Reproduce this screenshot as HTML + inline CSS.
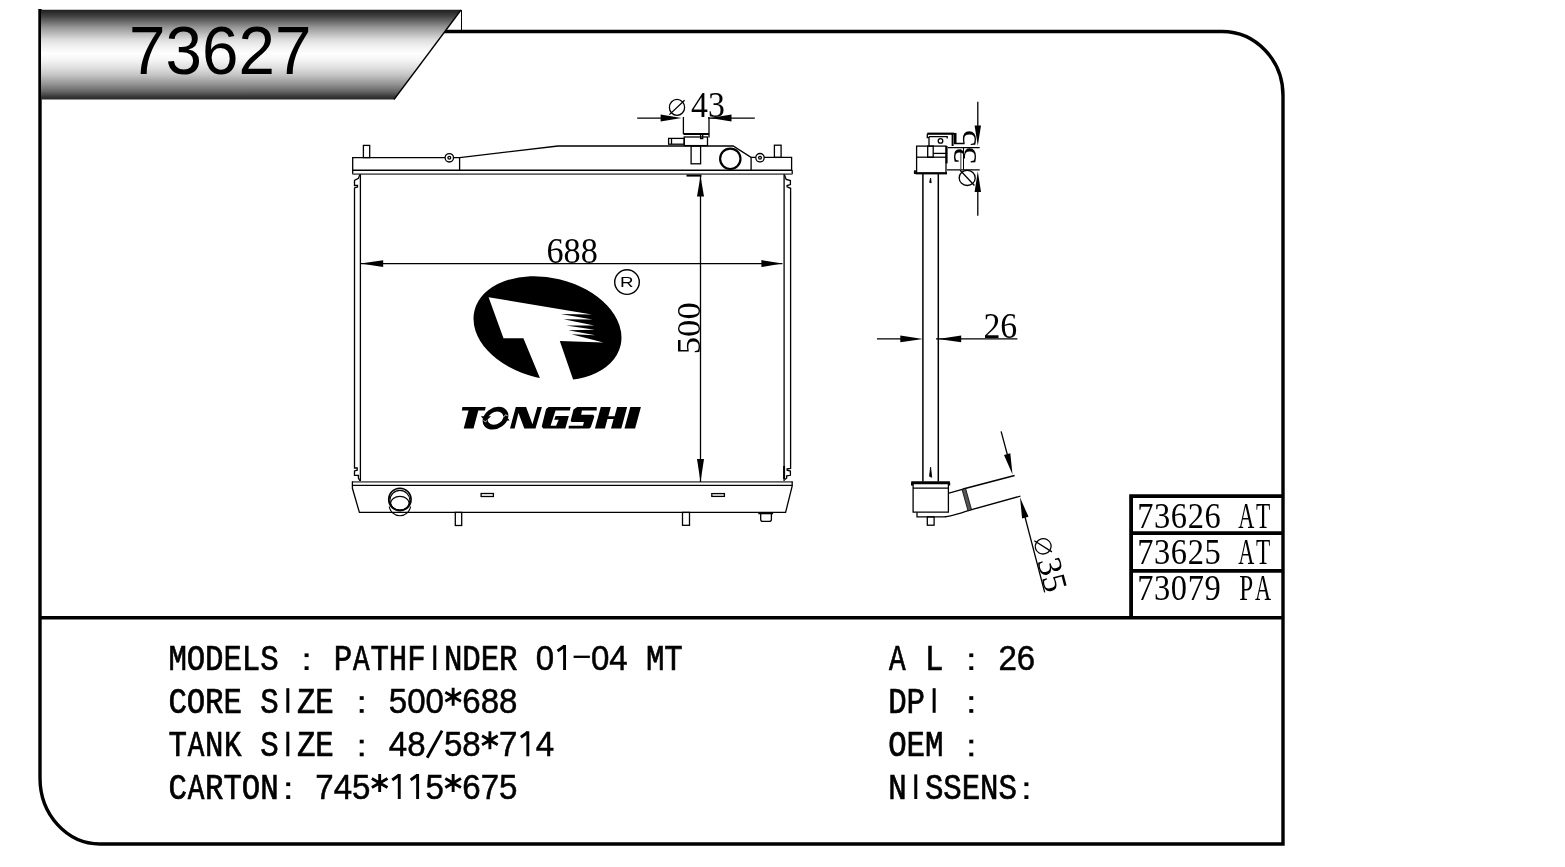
<!DOCTYPE html>
<html><head><meta charset="utf-8">
<style>
html,body{margin:0;padding:0;background:#fff;width:1565px;height:867px;overflow:hidden}
svg{position:absolute;left:0;top:0;filter:grayscale(1)}
.lt{font-family:"Liberation Mono",monospace;font-size:30.75px;text-anchor:middle;stroke:#000;stroke-width:0.6}
.dg{font-family:"Liberation Sans",sans-serif;font-size:35px;text-anchor:middle;stroke:#000;stroke-width:0.5}
.st{fill:none;stroke:#000;stroke-width:2.9}
.ser{font-family:"Liberation Serif",serif;fill:#000}
</style></head>
<body>
<svg width="1565" height="867" viewBox="0 0 1565 867">
<defs>
<linearGradient id="bg" x1="0" y1="0" x2="0" y2="1">
<stop offset="0" stop-color="#1e1e1e"/>
<stop offset="0.075" stop-color="#444"/>
<stop offset="0.14" stop-color="#707070"/>
<stop offset="0.2" stop-color="#999"/>
<stop offset="0.27" stop-color="#bdbdbd"/>
<stop offset="0.33" stop-color="#dcdcdc"/>
<stop offset="0.396" stop-color="#eee"/>
<stop offset="0.486" stop-color="#fff"/>
<stop offset="0.564" stop-color="#f4f4f4"/>
<stop offset="0.653" stop-color="#ddd"/>
<stop offset="0.717" stop-color="#c8c8c8"/>
<stop offset="0.782" stop-color="#aaa"/>
<stop offset="0.845" stop-color="#8a8a8a"/>
<stop offset="0.91" stop-color="#666"/>
<stop offset="0.973" stop-color="#333"/>
<stop offset="1" stop-color="#2a2a2a"/>
</linearGradient>
</defs>
<!-- FRAME -->
<g fill="none" stroke="#000" stroke-width="3.4">
<path d="M444 31.5 H1222 A61 64 0 0 1 1283 95.5 V844 H100 A60 66 0 0 1 40 778 V9"/>
<line x1="40" y1="617.7" x2="1283" y2="617.7"/>
</g>
<!-- BANNER -->
<path d="M41 9.8 H461 L394 99.6 H41 Z" fill="url(#bg)"/>
<path d="M461 10 L394 99.5" stroke="#000" stroke-width="1.3" fill="none"/>
<line x1="461.5" y1="10" x2="461.5" y2="31" stroke="#000" stroke-width="1"/>
<text transform="translate(129.1 74.2) scale(0.946 1)" x="0" y="0" font-family="Liberation Sans" font-size="69.3" fill="#000">73627</text>

<!-- TABLE -->
<g fill="none" stroke="#000" stroke-width="3.8">
<path d="M1131.1 617.5 V496.1 H1283"/>
<line x1="1131.1" y1="533.2" x2="1283" y2="533.2"/>
<line x1="1131.1" y1="570.8" x2="1283" y2="570.8"/>
</g>
<g id="tbl" fill="#000" font-family="Liberation Serif" font-size="35.3" text-anchor="middle">
<text transform="translate(1145.30 527.5) scale(0.92 1)">7</text>
<text transform="translate(1162.13 527.5) scale(0.92 1)">3</text>
<text transform="translate(1178.96 527.5) scale(0.92 1)">6</text>
<text transform="translate(1195.79 527.5) scale(0.92 1)">2</text>
<text transform="translate(1212.62 527.5) scale(0.92 1)">6</text>
<text transform="translate(1246.28 527.5) scale(0.63 1)">A</text>
<text transform="translate(1263.11 527.5) scale(0.66 1)">T</text>
<text transform="translate(1145.30 564.2) scale(0.92 1)">7</text>
<text transform="translate(1162.13 564.2) scale(0.92 1)">3</text>
<text transform="translate(1178.96 564.2) scale(0.92 1)">6</text>
<text transform="translate(1195.79 564.2) scale(0.92 1)">2</text>
<text transform="translate(1212.62 564.2) scale(0.92 1)">5</text>
<text transform="translate(1246.28 564.2) scale(0.63 1)">A</text>
<text transform="translate(1263.11 564.2) scale(0.66 1)">T</text>
<text transform="translate(1145.30 600.1) scale(0.92 1)">7</text>
<text transform="translate(1162.13 600.1) scale(0.92 1)">3</text>
<text transform="translate(1178.96 600.1) scale(0.92 1)">0</text>
<text transform="translate(1195.79 600.1) scale(0.92 1)">7</text>
<text transform="translate(1212.62 600.1) scale(0.92 1)">9</text>
<text transform="translate(1246.28 600.1) scale(0.71 1)">P</text>
<text transform="translate(1263.11 600.1) scale(0.63 1)">A</text>
</g>

<!-- INFO TEXT -->
<g id="info" fill="#000">
<text class="lt" transform="translate(177.60 670) scale(1 1.21)">M</text>
<text class="lt" transform="translate(195.97 670) scale(1 1.21)">O</text>
<text class="lt" transform="translate(214.34 670) scale(1 1.21)">D</text>
<text class="lt" transform="translate(232.71 670) scale(1 1.21)">E</text>
<text class="lt" transform="translate(251.08 670) scale(1 1.21)">L</text>
<text class="lt" transform="translate(269.45 670) scale(1 1.21)">S</text>
<rect x="304.59" y="653.40" width="4" height="3.7"/><rect x="304.59" y="666.30" width="4" height="3.7"/>
<text class="lt" transform="translate(342.93 670) scale(1 1.21)">P</text>
<text class="lt" transform="translate(361.30 670) scale(0.9 1.21)">A</text>
<text class="lt" transform="translate(379.67 670) scale(1 1.21)">T</text>
<text class="lt" transform="translate(398.04 670) scale(1 1.21)">H</text>
<text class="lt" transform="translate(416.41 670) scale(1 1.21)">F</text>
<rect x="433.28" y="645.40" width="3" height="24.6"/>
<text class="lt" transform="translate(453.15 670) scale(1 1.21)">N</text>
<text class="lt" transform="translate(471.52 670) scale(1 1.21)">D</text>
<text class="lt" transform="translate(489.89 670) scale(1 1.21)">E</text>
<text class="lt" transform="translate(508.26 670) scale(1 1.21)">R</text>
<text class="dg" transform="translate(545.00 670) scale(0.945 1)">0</text>
<rect x="563.12" y="645.00" width="2.9" height="25"/><path class="st" stroke-width="2.7" d="M564.57 646.00 L557.57 651.00"/>
<rect x="573.59" y="655.65" width="16.3" height="2.3"/>
<text class="dg" transform="translate(600.11 670) scale(0.945 1)">0</text>
<text class="dg" transform="translate(618.48 670) scale(0.945 1)">4</text>
<text class="lt" transform="translate(655.22 670) scale(1 1.21)">M</text>
<text class="lt" transform="translate(673.59 670) scale(1 1.21)">T</text>
<text class="lt" transform="translate(177.60 712.8) scale(1 1.21)">C</text>
<text class="lt" transform="translate(195.97 712.8) scale(1 1.21)">O</text>
<text class="lt" transform="translate(214.34 712.8) scale(1 1.21)">R</text>
<text class="lt" transform="translate(232.71 712.8) scale(1 1.21)">E</text>
<text class="lt" transform="translate(269.45 712.8) scale(1 1.21)">S</text>
<rect x="286.32" y="688.20" width="3" height="24.6"/>
<text class="lt" transform="translate(306.19 712.8) scale(1 1.21)">Z</text>
<text class="lt" transform="translate(324.56 712.8) scale(1 1.21)">E</text>
<rect x="359.70" y="696.20" width="4" height="3.7"/><rect x="359.70" y="709.10" width="4" height="3.7"/>
<text class="dg" transform="translate(398.04 712.8) scale(0.945 1)">5</text>
<text class="dg" transform="translate(416.41 712.8) scale(0.945 1)">0</text>
<text class="dg" transform="translate(434.78 712.8) scale(0.945 1)">0</text>
<path class="st" d="M453.15 687.80 V705.80 M445.35 692.30 L460.95 701.30 M445.35 701.30 L460.95 692.30"/>
<text class="dg" transform="translate(471.52 712.8) scale(0.945 1)">6</text>
<text class="dg" transform="translate(489.89 712.8) scale(0.945 1)">8</text>
<text class="dg" transform="translate(508.26 712.8) scale(0.945 1)">8</text>
<text class="lt" transform="translate(177.60 756.3) scale(1 1.21)">T</text>
<text class="lt" transform="translate(195.97 756.3) scale(0.9 1.21)">A</text>
<text class="lt" transform="translate(214.34 756.3) scale(1 1.21)">N</text>
<text class="lt" transform="translate(232.71 756.3) scale(0.95 1.21)">K</text>
<text class="lt" transform="translate(269.45 756.3) scale(1 1.21)">S</text>
<rect x="286.32" y="731.70" width="3" height="24.6"/>
<text class="lt" transform="translate(306.19 756.3) scale(1 1.21)">Z</text>
<text class="lt" transform="translate(324.56 756.3) scale(1 1.21)">E</text>
<rect x="359.70" y="739.70" width="4" height="3.7"/><rect x="359.70" y="752.60" width="4" height="3.7"/>
<text class="dg" transform="translate(398.04 756.3) scale(0.945 1)">4</text>
<text class="dg" transform="translate(416.41 756.3) scale(0.945 1)">8</text>
<path class="st" d="M442.08 730.60 L427.18 757.70"/>
<text class="dg" transform="translate(453.15 756.3) scale(0.945 1)">5</text>
<text class="dg" transform="translate(471.52 756.3) scale(0.945 1)">8</text>
<path class="st" d="M489.89 731.30 V749.30 M482.09 735.80 L497.69 744.80 M482.09 744.80 L497.69 735.80"/>
<text class="dg" transform="translate(508.26 756.3) scale(0.945 1)">7</text>
<rect x="526.38" y="731.30" width="2.9" height="25"/><path class="st" stroke-width="2.7" d="M527.83 732.30 L520.83 737.30"/>
<text class="dg" transform="translate(545.00 756.3) scale(0.945 1)">4</text>
<text class="lt" transform="translate(177.60 799) scale(1 1.21)">C</text>
<text class="lt" transform="translate(195.97 799) scale(0.9 1.21)">A</text>
<text class="lt" transform="translate(214.34 799) scale(1 1.21)">R</text>
<text class="lt" transform="translate(232.71 799) scale(1 1.21)">T</text>
<text class="lt" transform="translate(251.08 799) scale(1 1.21)">O</text>
<text class="lt" transform="translate(269.45 799) scale(1 1.21)">N</text>
<rect x="286.22" y="782.40" width="4" height="3.7"/><rect x="286.22" y="795.30" width="4" height="3.7"/>
<text class="dg" transform="translate(324.56 799) scale(0.945 1)">7</text>
<text class="dg" transform="translate(342.93 799) scale(0.945 1)">4</text>
<text class="dg" transform="translate(361.30 799) scale(0.945 1)">5</text>
<path class="st" d="M379.67 774.00 V792.00 M371.87 778.50 L387.47 787.50 M371.87 787.50 L387.47 778.50"/>
<rect x="397.79" y="774.00" width="2.9" height="25"/><path class="st" stroke-width="2.7" d="M399.24 775.00 L392.24 780.00"/>
<rect x="416.16" y="774.00" width="2.9" height="25"/><path class="st" stroke-width="2.7" d="M417.61 775.00 L410.61 780.00"/>
<text class="dg" transform="translate(434.78 799) scale(0.945 1)">5</text>
<path class="st" d="M453.15 774.00 V792.00 M445.35 778.50 L460.95 787.50 M445.35 787.50 L460.95 778.50"/>
<text class="dg" transform="translate(471.52 799) scale(0.945 1)">6</text>
<text class="dg" transform="translate(489.89 799) scale(0.945 1)">7</text>
<text class="dg" transform="translate(508.26 799) scale(0.945 1)">5</text>
<text class="lt" transform="translate(897.40 670) scale(0.9 1.21)">A</text>
<text class="lt" transform="translate(934.14 670) scale(1 1.21)">L</text>
<rect x="969.28" y="653.40" width="4" height="3.7"/><rect x="969.28" y="666.30" width="4" height="3.7"/>
<text class="dg" transform="translate(1007.62 670) scale(0.945 1)">2</text>
<text class="dg" transform="translate(1025.99 670) scale(0.945 1)">6</text>
<text class="lt" transform="translate(897.40 712.8) scale(1 1.21)">D</text>
<text class="lt" transform="translate(915.77 712.8) scale(1 1.21)">P</text>
<rect x="932.64" y="688.20" width="3" height="24.6"/>
<rect x="969.28" y="696.20" width="4" height="3.7"/><rect x="969.28" y="709.10" width="4" height="3.7"/>
<text class="lt" transform="translate(897.40 756.3) scale(1 1.21)">O</text>
<text class="lt" transform="translate(915.77 756.3) scale(1 1.21)">E</text>
<text class="lt" transform="translate(934.14 756.3) scale(1 1.21)">M</text>
<rect x="969.28" y="739.70" width="4" height="3.7"/><rect x="969.28" y="752.60" width="4" height="3.7"/>
<text class="lt" transform="translate(897.40 799) scale(1 1.21)">N</text>
<rect x="914.27" y="774.40" width="3" height="24.6"/>
<text class="lt" transform="translate(934.14 799) scale(1 1.21)">S</text>
<text class="lt" transform="translate(952.51 799) scale(1 1.21)">S</text>
<text class="lt" transform="translate(970.88 799) scale(1 1.21)">E</text>
<text class="lt" transform="translate(989.25 799) scale(1 1.21)">N</text>
<text class="lt" transform="translate(1007.62 799) scale(1 1.21)">S</text>
<rect x="1024.39" y="782.40" width="4" height="3.7"/><rect x="1024.39" y="795.30" width="4" height="3.7"/>
</g>

<!-- DRAWING -->
<g id="drawing" fill="none" stroke="#000" stroke-width="1.3">
<!-- top tank -->
<path d="M352.7 174.3 V157.6 H445"/>
<path d="M453.6 157.6 H459.6 L558 146 H733.2 L751.1 157.4 V170.4"/>
<path d="M459.6 157.6 V170.4"/>
<path d="M751.1 157.4 H755.8 M764.2 157.4 H791.6 V170.3 M792.2 170.3 V174.2"/>
<path d="M352.7 170.3 H792.2" stroke-width="1.5"/>
<path d="M352.7 174.2 H792.2" stroke="#666" stroke-width="1.7"/>
<rect x="363.4" y="145.4" width="6.3" height="12.2"/>
<rect x="774.4" y="145.2" width="6.7" height="12.2"/>
<circle cx="449.3" cy="157.8" r="4.2"/>
<circle cx="449.3" cy="157.8" r="1.4"/>
<circle cx="760" cy="157.7" r="4.2"/>
<circle cx="760" cy="157.7" r="1.4"/>
<circle cx="730.3" cy="158.8" r="10.2" stroke-width="2.2"/>
<rect x="691.1" y="146" width="9.5" height="17.8"/>
<!-- cap -->
<path d="M683.4 117 V134 M709 117 V137.5"/>
<path d="M683.4 134 H709" stroke-width="2"/>
<path d="M700.6 134.5 V138.6 H702.7 V134.5"/>
<rect x="684.2" y="137" width="23.3" height="8.6"/>
<rect x="668.6" y="138.4" width="15.6" height="5.8"/>
<path d="M671.5 138.4 V144.2"/>
<!-- core sides -->
<path d="M360.4 174.3 V481.5"/>
<path d="M359.8 174.6 L358.4 178.4 L354.5 180.5 V185.5 H357.5 V187 L354.5 188 V468 H357.2 V470.2 L354.5 470.9 V475.3 H358.4 V478.1 L360 480.8"/>
<path d="M784.1 174.3 V481.5"/>
<path d="M784.4 174.6 L786.2 179.5 L790.4 180.5 V184.6 L787.1 185.5 V186.9 L790.6 188.3 V468.4 L787.1 468.8 V470.2 L790.4 471.1 V475.3 L786.7 475.8 V478 L784.8 479.5"/>
<path d="M784.1 466 V479" stroke-width="2"/>
<!-- bottom tank -->
<path d="M352.4 481.8 H792.2" stroke="#666" stroke-width="1.7"/>
<path d="M352.4 485.3 H792.2" stroke-width="1.3"/>
<path d="M352.4 481.2 V488.3 L359.4 512.4 H785.6 L792.2 486 V481.2"/>
<circle cx="399.9" cy="499.4" r="11.2" stroke-width="1.6"/>
<circle cx="399.9" cy="500.4" r="10" stroke-width="1.2"/>
<ellipse cx="399.9" cy="503.2" rx="9.3" ry="6.8" stroke-width="1.2"/>
<path d="M389.3 506.5 A10.7 10.7 0 0 0 410.5 506.5" stroke-width="1.2"/>
<rect x="481.1" y="493.5" width="12.3" height="3"/>
<rect x="711.8" y="493.6" width="12.6" height="2.8"/>
<rect x="455.3" y="512.4" width="6.4" height="13.1"/>
<rect x="682.5" y="512.4" width="7" height="12.9"/>
<path d="M758.3 513.2 H773.1" stroke-width="2.2"/>
<path d="M760.7 513 V519.5 Q760.7 521.4 763 521.4 H769 Q771.4 521.4 771.4 519.5 V513"/>
</g>

<!-- DIMENSIONS -->
<g stroke="#000" stroke-width="1.3" fill="none">
<path d="M637.2 118.1 H662 M708 118.1 H754.8"/>
<path d="M360.4 263.6 H782.4"/>
<path d="M700.5 176 V482"/>
<path d="M686.5 175.6 H701.5" stroke-width="2"/>
<!-- ⌀ symbol for 43 -->
<ellipse cx="677" cy="107.4" rx="7.6" ry="8"/>
<path d="M669.4 114.6 L684.6 100.3"/>
</g>
<g fill="#000" stroke="none">
<path d="M681.5 118.1 L660.6 114.6 V121.6 Z"/>
<path d="M710 118.1 L731.5 114.6 V121.6 Z"/>
<path d="M360.4 263.6 L383.2 260.2 V267 Z"/>
<path d="M782.4 263.6 L761.4 260.1 V267.1 Z"/>
<path d="M700.5 176 L697 196.5 H704 Z"/>
<path d="M700.5 482.1 L697 459.1 H704 Z"/>
</g>
<g class="ser" font-size="35">
<text transform="translate(691 116.8) scale(1 1.08)" font-size="33.8">43</text>
<text transform="translate(546.4 262.5) scale(0.99 1.05)" font-size="34.6">688</text>
<text transform="translate(699.5 354.2) rotate(-90)" font-size="34.6">500</text>
</g>
<!-- LOGO -->
<g>
<ellipse cx="547.5" cy="328.2" rx="75.1" ry="50.4" transform="rotate(13.4 547.5 328.2)" fill="#000"/>
<path fill="#fff" d="M488.6 297.2 L591.9 314.4 L560.8 314.1 L592.5 319.5 L563.6 319.3 L594.2 325.4 L566.2 325.4 L594.8 329.7 L568.3 330.3 L595.4 335.2 L571.4 334.3 L603.4 342.4 L559.8 341 L575 385 L542.8 385 L523.4 338.3 L503.5 338.3 Z"/>
<circle cx="627" cy="282.1" r="12.3" fill="none" stroke="#000" stroke-width="1.4"/>
<text transform="translate(626.7 287) scale(1.25 1)" text-anchor="middle" font-family="Liberation Sans" font-size="15" fill="#000">R</text>
<g transform="translate(0 407) skewX(-15)" fill="#000">
<path d="M462.4 0 H485.7 L485.9 3.6 H479.3 V21.6 H469.5 V3.6 H462.8 Z"/>
<path fill-rule="evenodd" d="M486 11.2 A12.5 11.4 0 1 0 511 11.2 A12.5 11.4 0 1 0 486 11.2 Z M491 11.2 A7.5 6.6 0 1 0 506 11.2 A7.5 6.6 0 1 0 491 11.2 Z"/>
<path d="M483.4 9.3 L493.6 9.3 L489.2 14.6 Z"/>
<path d="M513.3 13.4 L507.6 13.8 L507.9 8.6 Z"/>
<path d="M487.1 13.2 L489.4 15 L490.8 13.2 M505.8 10.3 L507.8 7.9 L509.9 8.7" fill="none" stroke="#fff" stroke-width="0.8"/>
<path d="M515.8 0 H526.1 L537.1 17.3 L537.3 0 H541.9 L541.3 21.6 H530.1 L520.1 6.1 L520.4 21.6 H515.8 Z"/>
<path d="M548.6 0 H570.6 L570.8 3.6 H556.5 L555.6 18.8 H561.1 L562.1 12.75 H557.6 L558 9.1 H571.3 L571.1 21.6 H549 L547 19.6 L546.6 2 Z"/>
<path d="M577.2 0 H596.7 L597.7 3.6 H582.9 L583.2 7.7 H595.2 L596.9 9.5 L596.2 20.2 L595 21.6 H574.4 L573.8 18.7 H588 L588 15.1 H575.6 L574.3 13.5 L574.2 2.4 Z"/>
<path d="M600.8 0 H610.8 V9.2 H617.1 V0 H627.1 V21.6 H616.8 V12 H610.7 V21.6 H600.7 Z"/>
<path d="M630.3 0 H640.9 V21.6 H630.3 Z"/>
</g>
</g>
<!-- SIDE VIEW -->
<g fill="none" stroke="#000" stroke-width="1.3">
<path d="M922.9 173.5 V481.6 M938.3 173.5 V481.6" stroke-width="1.5"/>
<!-- top cap -->
<path d="M927.3 133.7 H954.3" stroke-width="2.2"/>
<path d="M927.3 133.7 V137.5 H929 V146"/>
<path d="M929 136.6 H947.2 V138.6"/>
<path d="M952.6 133 V146" stroke-width="2"/>
<circle cx="940.5" cy="140.9" r="2.3"/>
<rect x="916.6" y="146.1" width="29.4" height="27.2"/>
<path d="M915.6 173.3 H947" stroke-width="2.2"/>
<path d="M914.9 170.3 V174" stroke-width="2"/>
<path d="M916.6 157.2 H946"/>
<rect x="927.7" y="146.1" width="5.5" height="11.1"/>
<path d="M933.2 153.4 H946"/>
<path d="M946.6 146 V163.4" stroke-width="2"/>
<path d="M930.6 178 L929.6 182.4 L931.2 182.8 Z" fill="#000" stroke-width="0.8"/>
<!-- top dims -->
<path d="M977.8 101.7 V127 M977.8 190 V215.7"/>
<path d="M947.8 147.7 H979.7 M946.9 169.8 H979.7"/>
<path d="M963.5 148 V169.8" stroke-width="1"/><path d="M960.8 149.5 V169" stroke="#777" stroke-width="1.5"/>
<!-- 26 dim -->
<path d="M877 338.9 H903 M936 338.9 H1017.4"/>
<!-- bottom -->
<path d="M930.6 467.1 L929.5 476.3 L931.7 477.3 Z" fill="#000" stroke-width="0.8"/>
<path d="M911.2 482.8 H949.9" stroke-width="3"/>
<path d="M912 482.8 V485.5 M949.2 482.8 V485.5" stroke-width="2"/>
<path d="M913.1 482.8 V512.2 H948.4 V482.8"/>
<path d="M913.1 488.2 H948.4"/>
<path d="M917 512.2 V516.9 H944 Q950 516.9 969.8 510.2 L1020.4 496.1"/>
<path d="M949 493.2 L963.1 489.1"/>
<path d="M963.1 489.1 L1014.6 475.6" stroke-width="1.6"/>
<rect x="927.3" y="516.9" width="6.8" height="8.3"/>
<path d="M1001.1 431.4 L1008 457 M1025 517 L1044.7 592.3"/>
<!-- bottom ⌀35 -->
<g transform="translate(1034.1 548.7) rotate(75.4)">
<ellipse cx="0" cy="-9.4" rx="7.6" ry="8"/>
<path d="M-7.6 -2.2 L7.6 -16.5"/>
</g>
<g transform="translate(975.8 177.9) rotate(-90)">
<ellipse cx="0" cy="-8.6" rx="7.6" ry="8"/>
<path d="M-7.6 -1.4 L7.6 -15.7"/>
</g>
</g>
<path d="M962 489.5 L965.6 488.4 L971.6 509.8 L968 510.8 Z" fill="#555" stroke="#000" stroke-width="0.8"/>
<g fill="#000">
<path d="M977.8 145.8 L974.6 125.5 H981 Z"/>
<path d="M977.8 171.2 L974.6 192 H981 Z"/>
<path d="M923 338.9 L900.3 335.5 V342.3 Z"/>
<path d="M938.2 338.9 L961.2 335.5 V342.3 Z"/>
<path d="M1012.5 474.4 L1004 454.9 L1010.3 453.2 Z"/>
<path d="M1020 497.4 L1022.1 518.5 L1028.5 516.8 Z"/>
</g>
<g class="ser" font-size="35">
<text transform="translate(983.4 337.8) scale(1 1.03)" font-size="33.8">26</text>
</g>
<g class="ser" font-size="34">
<text transform="translate(975.8 177.9) rotate(-90)" x="13.9" y="0">35</text>
<text transform="translate(1034.1 548.7) rotate(75.4)" x="12.7" y="0">35</text>
</g>
</svg>
</body></html>
